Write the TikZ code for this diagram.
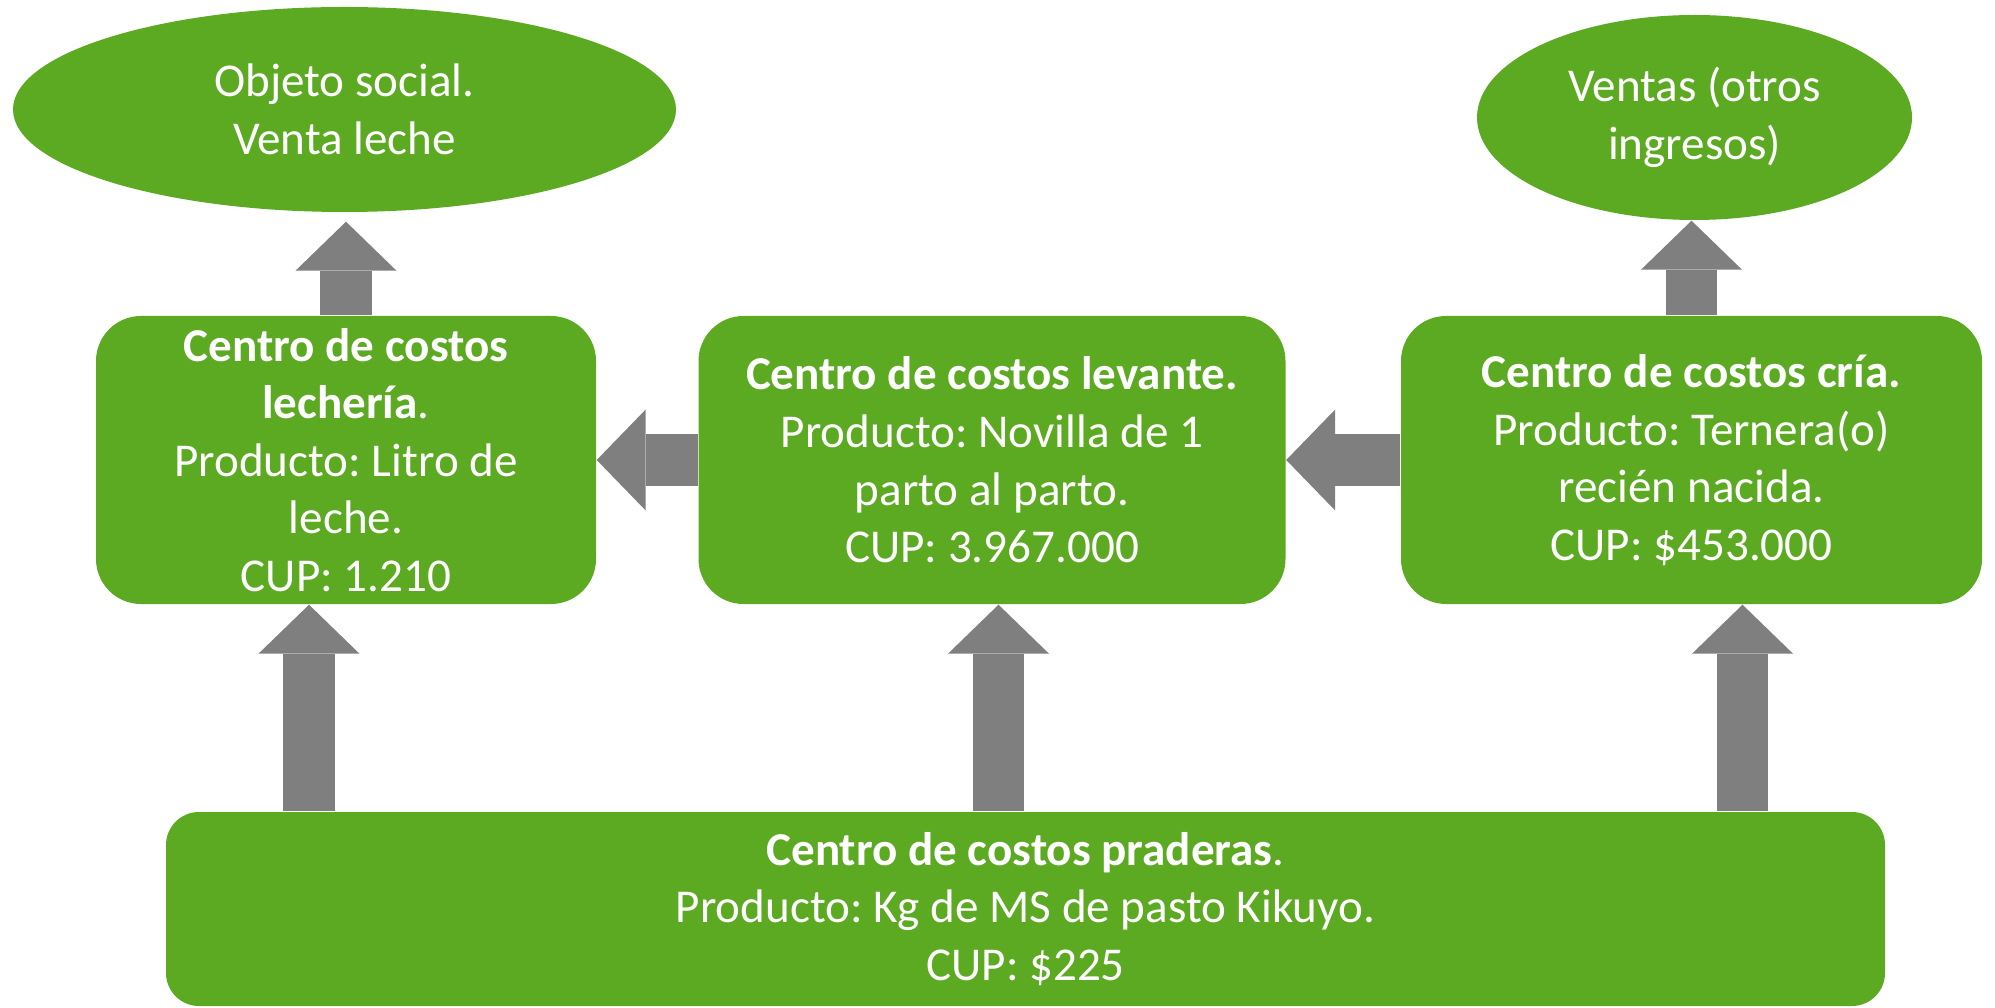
\documentclass[tikz,border=0pt]{standalone}
\usepackage{fontspec}
\setmainfont{Carlito}
\usepackage{tikz}
\usetikzlibrary{shapes.geometric,arrows.meta}

\definecolor{boxgreen}{RGB}{92,169,34}
\definecolor{arrowgray}{RGB}{127,127,127}
\frenchspacing

\begin{document}
\begin{tikzpicture}
[every node/.style = {text = white, align = center,
   font = \fontsize{13.4pt}{16.4pt}\selectfont},
  centro/.style = {fill = boxgreen, rounded corners = 4.5mm,
   minimum height = 2.88cm},
  salida/.style = {ellipse, fill = boxgreen, inner sep = 0pt},
  bigarrow/.style = {draw = arrowgray, line width = 5.15mm,
   -{Triangle[length=4.9mm 0 0, width=10.1mm 0 0, line width=0pt 0 0, fill=arrowgray]}}]
  \useasboundingbox (0,0) rectangle (19.95,10.07);

  % salidas
  \node[salida, minimum width = 6.63cm, minimum height = 2.05cm] (objeto)
    at (3.445,8.975) {Objeto social.\\Venta leche};
  \node[salida, minimum width = 4.35cm, minimum height = 2.05cm] (ventas)
    at (16.945,8.895) {Ventas (otros\\ingresos)};

  % centros de costos
  \node[centro, minimum width = 5.0cm] (lecheria) at (3.46,5.47)
    {\textbf{Centro de costos}\\\textbf{lechería}.\\Producto: Litro de\\leche.\\CUP: 1.210};
  \node[centro, minimum width = 5.87cm] (levante) at (9.92,5.47)
    {\textbf{Centro de costos levante.}\\Producto: Novilla de 1\\parto al parto.\\CUP: 3.967.000};
  \node[centro, minimum width = 5.81cm] (cria) at (16.915,5.47)
    {\textbf{Centro de costos cría.}\\Producto: Ternera(o)\\recién nacida.\\CUP: \$453.000};
  \node[centro, rounded corners = 3.3mm, minimum width = 17.19cm,
    minimum height = 1.94cm] (praderas) at (10.255,0.98)
    {\textbf{Centro de costos praderas}.\\Producto: Kg de MS de pasto Kikuyo.\\CUP: \$225};

  \coordinate (p1) at (3.09,0);
  \coordinate (p2) at (9.985,0);
  \coordinate (p3) at (17.425,0);

  % flechas
  \draw[bigarrow, shorten > = 0.9mm] (lecheria.north) -- (lecheria.north |- objeto.south);
  \draw[bigarrow] (cria.north) -- (cria.north |- ventas.south);
  \draw[bigarrow] (levante.west) -- (lecheria.east);
  \draw[bigarrow] (cria.west) -- (levante.east);
  \draw[bigarrow] (praderas.north -| p1) -- (lecheria.south -| p1);
  \draw[bigarrow] (praderas.north -| p2) -- (levante.south -| p2);
  \draw[bigarrow] (praderas.north -| p3) -- (cria.south -| p3);
\end{tikzpicture}
\end{document}
